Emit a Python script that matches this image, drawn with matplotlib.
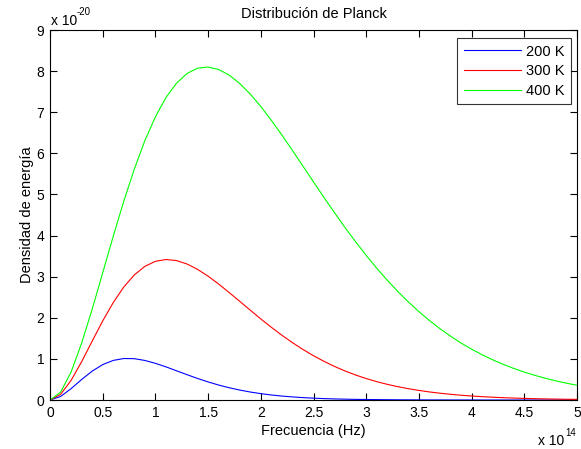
import matplotlib
matplotlib.use("Agg")
import matplotlib.pyplot as plt
from matplotlib.ticker import FuncFormatter

# Frequency in units of 1e14 Hz
freq = [i / 10 for i in range(51)]

# Energy density in units of 1e-20
u_200 = [0, 0.085, 0.276, 0.498, 0.702, 0.861, 0.963, 1.009, 1.005, 0.962,
         0.892, 0.806, 0.711, 0.616, 0.524, 0.440, 0.364, 0.298, 0.242, 0.194,
         0.155, 0.122, 0.096, 0.075, 0.058, 0.045, 0.034, 0.026, 0.020, 0.015,
         0.012, 0.009, 0.007, 0.005, 0.004, 0.003, 0.002, 0.002, 0.001, 0.001,
         0.001, 0.0, 0.0, 0.0, 0.0, 0.0, 0.0, 0.0, 0.0, 0.0, 0.0]
u_300 = [0, 0.136, 0.476, 0.931, 1.431, 1.923, 2.370, 2.748, 3.043, 3.251,
         3.373, 3.417, 3.392, 3.308, 3.178, 3.012, 2.821, 2.614, 2.400, 2.185,
         1.972, 1.769, 1.575, 1.396, 1.229, 1.077, 0.940, 0.816, 0.705, 0.607,
         0.522, 0.446, 0.381, 0.324, 0.275, 0.233, 0.196, 0.165, 0.139, 0.116,
         0.097, 0.081, 0.068, 0.056, 0.047, 0.039, 0.032, 0.027, 0.022, 0.018,
         0.015]
u_400 = [0, 0.188, 0.680, 1.380, 2.207, 3.093, 3.984, 4.836, 5.618, 6.308,
         6.889, 7.356, 7.705, 7.942, 8.071, 8.099, 8.040, 7.902, 7.699, 7.441,
         7.139, 6.804, 6.445, 6.071, 5.689, 5.305, 4.925, 4.554, 4.192, 3.847,
         3.518, 3.206, 2.913, 2.640, 2.385, 2.150, 1.933, 1.734, 1.553, 1.386,
         1.236, 1.100, 0.978, 0.867, 0.768, 0.679, 0.599, 0.528, 0.465, 0.409,
         0.359]

labels = ["200 K", "300 K", "400 K"]
x_ticks = [0, 0.5, 1, 1.5, 2, 2.5, 3, 3.5, 4, 4.5, 5]
y_ticks = [0, 1, 2, 3, 4, 5, 6, 7, 8, 9]

plt.rcParams['font.family'] = ['Liberation Sans', 'DejaVu Sans']

W, H = 581, 449
fig = plt.figure(figsize=(W / 100, H / 100), dpi=100)
ax = fig.add_axes([50 / W, 1 - 400 / H, 527 / W, 370 / H])

ax.plot(freq, u_200, color=(0, 0, 1), lw=0.8, label=labels[0])
ax.plot(freq, u_300, color=(1, 0, 0), lw=0.8, label=labels[1])
ax.plot(freq, u_400, color=(0, 1, 0), lw=0.8, label=labels[2])

ax.set_xlim(0, 5)
ax.set_ylim(0, 9)
ax.set_xticks(x_ticks)
ax.set_yticks(y_ticks)
fmt = FuncFormatter(lambda v, p: "%g" % v)
ax.xaxis.set_major_formatter(fmt)
ax.yaxis.set_major_formatter(fmt)
ax.tick_params(direction='in', length=5, width=0.8, top=True, right=True,
               labelsize=10, pad=4, colors='black')
for s in ax.spines.values():
    s.set_linewidth(0.8)

ax.set_title("Distribución de Planck", fontsize=10.5, pad=9)
ax.set_xlabel("Frecuencia (Hz)", fontsize=10.5, labelpad=3)
ax.set_ylabel("Densidad de energía", fontsize=10.5, labelpad=2)

# MATLAB-style exponent labels
fig.text(51 / W, 1 - 25 / H, "x 10", fontsize=10, ha='left', va='baseline')
fig.text(77 / W, 1 - 15 / H, "-20", fontsize=7, ha='left', va='baseline')
fig.text(564 / W, 1 - 445 / H, "x 10", fontsize=10, ha='right', va='baseline')
fig.text(565 / W, 1 - 436 / H, "14", fontsize=7, ha='left', va='baseline')

leg = ax.legend(loc='upper right', bbox_to_anchor=((571 - 50) / 527, (400 - 38) / 370),
                borderaxespad=0, fontsize=10.5, frameon=True, fancybox=False,
                edgecolor='black', handlelength=3.9, handletextpad=0.35,
                labelspacing=0.38, borderpad=0.45)
leg.get_frame().set_linewidth(0.8)

fig.savefig("out.png", dpi=100)
